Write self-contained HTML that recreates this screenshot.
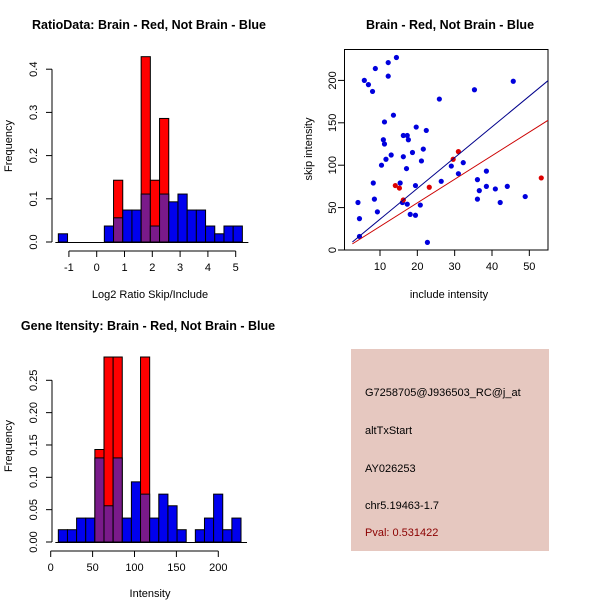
<!DOCTYPE html>
<html><head><meta charset="utf-8"><style>
body{margin:0;background:#fff}
svg text{font-family:"Liberation Sans",sans-serif;fill:#000}
</style></head><body>
<svg id="c" width="600" height="600" xmlns="http://www.w3.org/2000/svg">
<text x="149" y="29" font-size="12.5" font-weight="bold" text-anchor="middle">RatioData: Brain - Red, Not Brain - Blue</text>
<text x="450" y="29" font-size="12.5" font-weight="bold" text-anchor="middle">Brain - Red, Not Brain - Blue</text>
<text x="148" y="330" font-size="12.5" font-weight="bold" text-anchor="middle">Gene Itensity: Brain - Red, Not Brain - Blue</text>
<text x="150" y="298" font-size="11" text-anchor="middle">Log2 Ratio Skip/Include</text>
<text x="12" y="146" font-size="11" text-anchor="middle" transform="rotate(-90 12 146)">Frequency</text>
<text x="449" y="298" font-size="11" text-anchor="middle">include intensity</text>
<text x="312" y="149" font-size="11" text-anchor="middle" transform="rotate(-90 312 149)">skip intensity</text>
<text x="150" y="597" font-size="11" text-anchor="middle">Intensity</text>
<text x="12" y="446" font-size="11" text-anchor="middle" transform="rotate(-90 12 446)">Frequency</text>
<g>
<rect x="351" y="349" width="198" height="202" fill="#e6c8c0"/>
<text x="365" y="396" font-size="11">G7258705@J936503_RC@j_at</text>
<text x="365" y="434" font-size="11">altTxStart</text>
<text x="365" y="472" font-size="11">AY026253</text>
<text x="365" y="509" font-size="11">chr5.19463-1.7</text>
<text x="365" y="536" font-size="11" fill="#8b0000" style="fill:#8b0000">Pval: 0.531422</text>
</g>
</svg>
<script>
// Ratio histogram data
const ratioBinStart = -1.38, ratioBinWidth = 0.331;
const ratioBlue = [0.019,0,0,0,0,0.037,0.056,0.074,0.074,0.111,0.037,0.111,0.093,0.111,0.074,0.074,0.037,0.019,0.037,0.037];
const ratioRed  = [0,0,0,0,0,0,0.143,0,0,0.429,0.143,0.286,0,0,0,0,0,0,0,0];
const ratioXTicks = [-1,0,1,2,3,4,5];
const ratioYTicks = [0,0.1,0.2,0.3,0.4];
const ratioYLabels = ["0.0","0.1","0.2","0.3","0.4"];
// Intensity histogram data
const intBinStart = 9.1, intBinWidth = 10.9;
const intBlue = [0.019,0.019,0.037,0.037,0.130,0.056,0.130,0.037,0.093,0.074,0.037,0.074,0.056,0.019,0,0.019,0.037,0.074,0.019,0.037];
const intRed  = [0,0,0,0,0.143,0.286,0.286,0,0,0.286,0,0,0,0,0,0,0,0,0,0];
const intXTicks = [0,50,100,150,200];
const intYTicks = [0,0.05,0.10,0.15,0.20,0.25];
const intYLabels = ["0.00","0.05","0.10","0.15","0.20","0.25"];
// Scatter data
const blueX = [4.1,4.5,4.5,5.8,6.9,8.0,8.75,12.2,14.4,12.2,13.6,11.2,10.9,11.2,11.6,13.0,10.4,8.2,8.5,9.3,16.25,17.3,17.6,19.7,22.4,21.6,18.7,16.25,17.1,21.1,15.4,19.5,16.0,17.3,18.1,19.5,20.8,22.7,25.9,26.4,29.1,31.0,32.3,35.3,45.7,36.1,36.1,36.6,38.5,38.5,40.9,42.2,44.1,48.9];
const blueY = [56,37,16,200,195,187,214,221,227,205,159,151,130,125,107,112,100,79,60,45,135,135,130,145,141,119,115,110,96,105,79,76,56,54,42,41,53,9,178,81,99,90,103,189,199,83,60,70,93,75,72,56,75,63];
const redX = [14.1,15.2,16.25,23.2,29.6,31.0,53.2];
const redY = [76,73,59,74,107,116,85];
const fitSlopes = [3.63,2.78];
const fitIntercepts = [0,0];
const fitColors = ["#00008b","#cc0000"];
const scatXTicks = [10,20,30,40,50];
const scatYTicks = [0,50,100,150,200];

const svg = document.getElementById('c');
const NS = 'http://www.w3.org/2000/svg';
function mk(tag, attrs, parent){const e=document.createElementNS(NS,tag);for(const k in attrs)e.setAttribute(k,attrs[k]);(parent||svg).appendChild(e);return e;}

function hist(o){
  const xs = v => o.x0px + (v - o.x0) * o.xs;
  const ys = v => o.y0px - v * o.ys;
  const g = mk('g',{});
  
  
  o.blue.forEach((b,i)=>{
    const r = o.red[i];
    const a = xs(o.start + i*o.w), c = xs(o.start + (i+1)*o.w);
    const mn = Math.min(b,r), mx = Math.max(b,r);
    if (mx <= 0) return;
    if (b > r) {
      const e = mk('rect',{x:a,y:ys(b),width:c-a,height:ys(0)-ys(b),fill:'#0000ee',stroke:'#000','stroke-width':1},g);
      
      
    } else {
      const e = mk('rect',{x:a,y:ys(r),width:c-a,height:ys(0)-ys(r),fill:'#ff0000',stroke:'#000','stroke-width':1},g);
      
      
    }
    if (mn > 0) {
      const e = mk('rect',{x:a,y:ys(mn),width:c-a,height:ys(0)-ys(mn),fill:'#7a1a8a',stroke:'#000','stroke-width':1},g);
      
      
    }
  });
  mk('line',{x1:xs(o.start)-3,x2:xs(o.start+o.blue.length*o.w)+6,y1:o.y0px+0.5,y2:o.y0px+0.5,stroke:'#000'},g);
  const xa = o.xTicks;
  mk('line',{x1:xs(xa[0]),x2:xs(xa[xa.length-1]),y1:o.axY,y2:o.axY,stroke:'#000'},g);
  xa.forEach(t=>{
    mk('line',{x1:xs(t),x2:xs(t),y1:o.axY,y2:o.axY+6,stroke:'#000'},g);
    const tx = mk('text',{x:xs(t),y:o.axY+20,'font-size':11,'text-anchor':'middle'},g);
    tx.textContent = t;
    
    
  });
  const ya = o.yTicks;
  mk('line',{x1:o.axX,x2:o.axX,y1:ys(ya[0]),y2:ys(ya[ya.length-1]),stroke:'#000'},g);
  ya.forEach((t,i)=>{
    mk('line',{x1:o.axX-6,x2:o.axX,y1:ys(t),y2:ys(t),stroke:'#000'},g);
    const bx = o.axX-15;
    const tx = mk('text',{x:bx,y:ys(t),'font-size':11,'text-anchor':'middle',transform:`rotate(-90 ${bx} ${ys(t)})`},g);
    tx.textContent = o.yLabels[i];
    
    
  });
}
hist({name:'ratio-histogram',blue:ratioBlue,red:ratioRed,start:ratioBinStart,w:ratioBinWidth,x0:0,x0px:96.7,xs:27.8,y0px:242,ys:432,axY:251,axX:52,xTicks:ratioXTicks,yTicks:ratioYTicks,yLabels:ratioYLabels});
hist({name:'intensity-histogram',blue:intBlue,red:intRed,start:intBinStart,w:intBinWidth,x0:0,x0px:50.7,xs:0.838,y0px:542,ys:646.8,axY:551,axX:52,xTicks:intXTicks,yTicks:intYTicks,yLabels:intYLabels});

(function(){
  const xs = v => 380 + (v-10)*3.733;
  const ys = v => 250 - v*0.848;
  const g = mk('g',{});
  
  
  mk('rect',{x:344.5,y:49.5,width:203.5,height:200.5,fill:'none',stroke:'#000'},g);
  scatXTicks.forEach(t=>{
    mk('line',{x1:xs(t),x2:xs(t),y1:250,y2:256,stroke:'#000'},g);
    const tx = mk('text',{x:xs(t),y:270,'font-size':11,'text-anchor':'middle'},g);
    tx.textContent = t;
    
    
  });
  scatYTicks.forEach(t=>{
    mk('line',{x1:338,x2:344.5,y1:ys(t),y2:ys(t),stroke:'#000'},g);
    const tx = mk('text',{x:336,y:ys(t),'font-size':11,'text-anchor':'middle',transform:`rotate(-90 336 ${ys(t)})`},g);
    tx.textContent = t;
    
    
  });
  blueX.forEach((x,i)=>{
    const c = mk('circle',{cx:xs(x),cy:ys(blueY[i]),r:2.6,fill:'#0000dd'},g);
    
    
  });
  redX.forEach((x,i)=>{
    const c = mk('circle',{cx:xs(x),cy:ys(redY[i]),r:2.6,fill:'#dd0000'},g);
    
    
  });
  fitSlopes.forEach((s,i)=>{
    const xa = 2.6, xb = 55;
    const l = mk('line',{x1:xs(xa),y1:ys(fitIntercepts[i]+s*xa),x2:xs(xb),y2:ys(fitIntercepts[i]+s*xb),stroke:fitColors[i],'stroke-width':1},g);
    
    
  });
})();
</script>
</body></html>
